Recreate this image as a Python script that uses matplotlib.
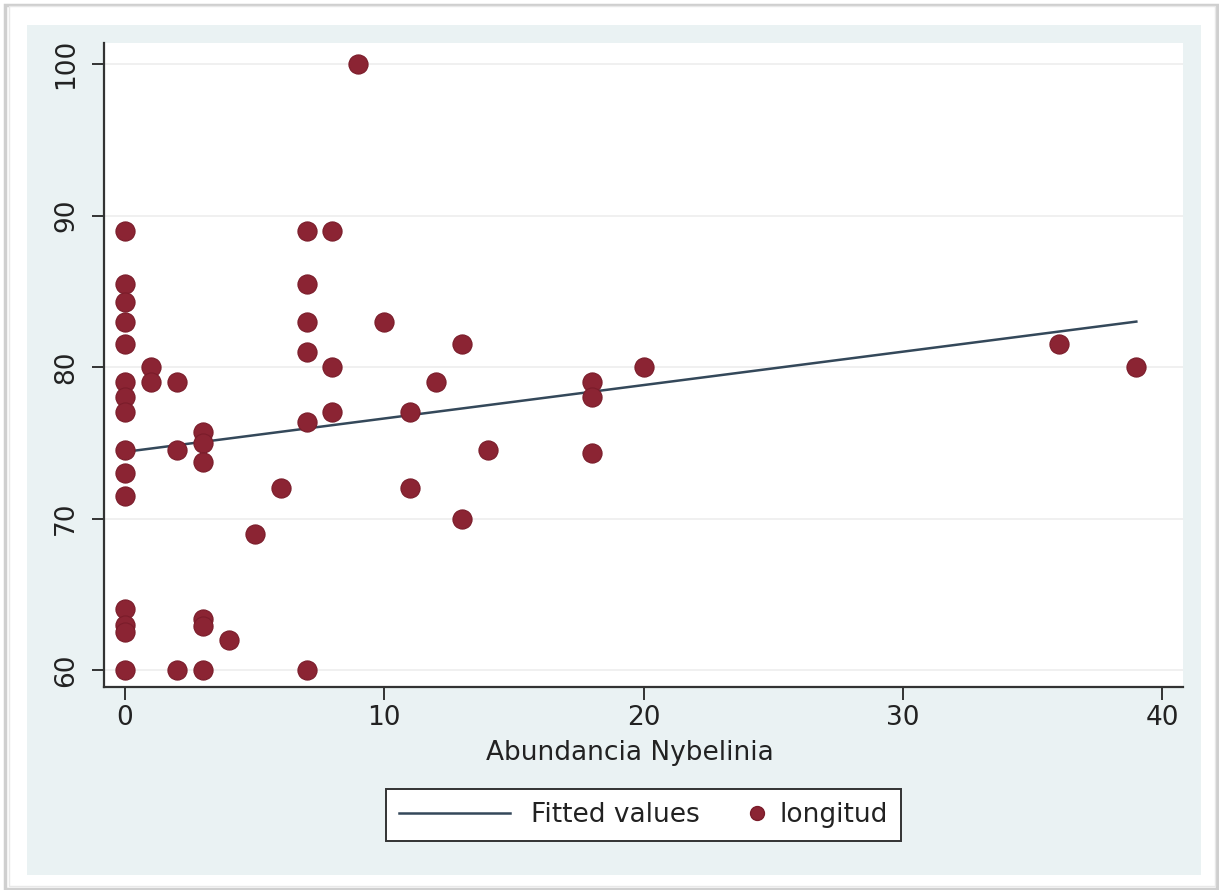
#!/usr/bin/env python3
"""Scatter of longitud vs Abundancia Nybelinia with fitted line (Stata look)."""

import matplotlib
matplotlib.use("Agg")
import matplotlib.pyplot as plt
from matplotlib.patches import Rectangle
from matplotlib.lines import Line2D
from matplotlib.legend_handler import HandlerBase

abundancia = [0, 0, 0, 0, 0, 0, 0, 0, 0, 0, 0, 0, 0, 0, 0,
              1, 1,
              2, 2, 2,
              3, 3, 3, 3, 3, 3,
              4, 5, 6,
              7, 7, 7, 7, 7, 7,
              8, 8, 8,
              9, 10, 11, 11, 12, 13, 13, 14,
              18, 18, 18, 20, 36, 39]
longitud = [89, 85.5, 84.3, 83, 81.5, 79, 78, 77, 74.5, 73, 71.5, 64, 63, 62.5, 60,
            80, 79,
            79, 74.5, 60,
            75.7, 75, 73.7, 63.4, 62.9, 60,
            62, 69, 72,
            89, 85.5, 83, 81, 76.4, 60,
            89, 80, 77,
            100, 83, 77, 72, 79, 81.5, 70, 74.5,
            79, 78, 74.3, 80, 81.5, 80]

# fitted line end points
fit_x = [0, 39]
fit_y = [74.4, 83.0]

x_ticks = [0, 10, 20, 30, 40]
y_ticks = [60, 70, 80, 90, 100]

W, H = 1219, 890
DOT = "#8b2433"
DOT_EDGE = "#7a1c2a"
LINE = "#34485a"


class RightMarker(HandlerBase):
    """Put the legend marker at the right end of its handle box."""

    def create_artists(self, legend, orig_handle, xdescent, ydescent,
                       width, height, fontsize, trans):
        x = -xdescent + width - 0.05 * fontsize
        y = -ydescent + height / 2
        mk = Line2D([x], [y], ls="none", marker="o", markersize=10,
                    markerfacecolor=DOT, markeredgecolor=DOT_EDGE)
        mk.set_transform(trans)
        return [mk]


fig = plt.figure(figsize=(W / 100, H / 100), dpi=100)
fig.patch.set_facecolor("white")

# outer frame with soft shadow
fig.patches.append(Rectangle((5 / W, 1 - 889 / H), 1212 / W, 884 / H,
                             transform=fig.transFigure, facecolor="none",
                             edgecolor="#cfcfcf", lw=2.5, zorder=-10))
fig.patches.append(Rectangle((9 / W, 1 - 886 / H), 1206 / W, 880 / H,
                             transform=fig.transFigure, facecolor="white",
                             edgecolor="#e8e8e8", lw=1, zorder=-10))
# light blue graph region
fig.patches.append(Rectangle((27 / W, 1 - 875 / H), 1174 / W, 850 / H,
                             transform=fig.transFigure, facecolor="#eaf2f3",
                             edgecolor="none", zorder=-9))

ax = fig.add_axes([104 / W, 1 - 687 / H, (1183 - 104) / W, (687 - 43) / H])
ax.set_zorder(1)
ax.set_facecolor("white")

ax.plot(fit_x, fit_y, color=LINE, lw=1.8, zorder=2)
ax.scatter(abundancia, longitud, s=190, color=DOT, edgecolors=DOT_EDGE,
           linewidths=0.8, zorder=3)

ax.set_xlim(-0.81, 40.8)
ax.set_ylim(58.88, 101.39)
ax.set_xticks(x_ticks)
ax.set_yticks(y_ticks)
ax.yaxis.grid(True, color="#eeeeee", lw=1.2)
ax.set_axisbelow(True)

for side in ("top", "right"):
    ax.spines[side].set_visible(False)
for side in ("left", "bottom"):
    ax.spines[side].set_color("#333333")
    ax.spines[side].set_linewidth(1.6)

ax.tick_params(direction="out", length=9, width=1.4, color="#333333",
               labelsize=19, labelcolor="#222222", pad=4)
ax.tick_params(axis="y", pad=9)
for lbl in ax.get_yticklabels():
    lbl.set_rotation(90)
    lbl.set_va("center")

ax.set_xlabel("Abundancia Nybelinia", fontsize=19, color="#222222")
ax.xaxis.set_label_coords(0.487, -0.082)

line_h = Line2D([], [], color=LINE, lw=1.8)
dot_h = Line2D([], [], ls="none", marker="o")
leg = ax.legend([line_h, dot_h], ["Fitted values", "longitud"], loc="center",
                bbox_to_anchor=(0.5, -0.199), ncol=2, fontsize=19,
                frameon=True, fancybox=False, framealpha=1,
                handlelength=4.2, handletextpad=0.8, columnspacing=-2.0,
                borderpad=0.5, handler_map={dot_h: RightMarker()})
leg.get_frame().set_edgecolor("#333333")
leg.get_frame().set_facecolor("white")
leg.get_frame().set_linewidth(1.4)
for t in leg.get_texts():
    t.set_color("#222222")

fig.savefig("out.png", dpi=100)
